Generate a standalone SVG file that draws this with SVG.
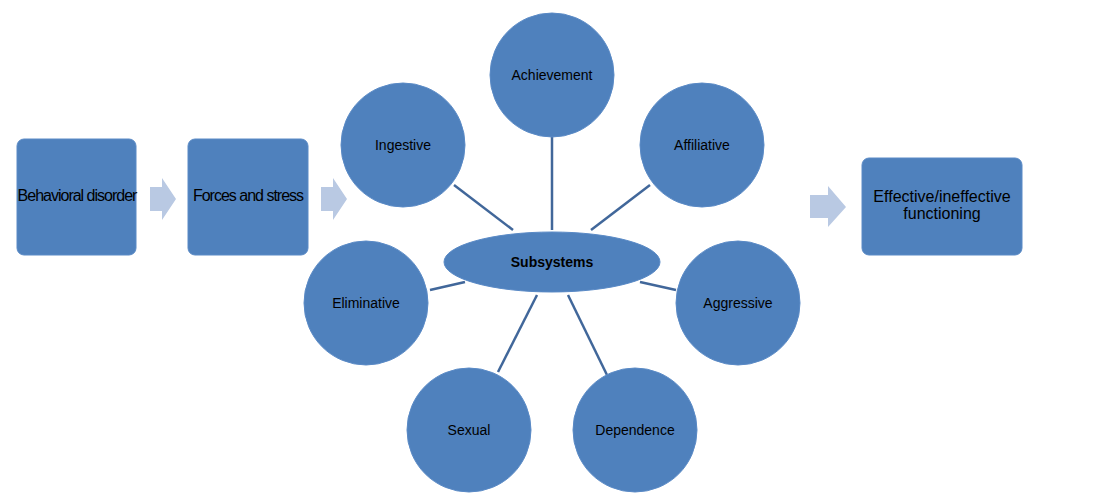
<svg xmlns="http://www.w3.org/2000/svg" width="1100" height="501" viewBox="0 0 1100 501">
<style>
.box{fill:#4F81BD;stroke:#5A8AC6;stroke-width:1}
.c{fill:#4F81BD;stroke:#5A8AC6;stroke-width:1}
.t{font-family:"Liberation Sans",Arial,sans-serif;font-size:14px;fill:#000;text-anchor:middle}
.tc{font-family:"Liberation Sans",Arial,sans-serif;font-size:16px;fill:#000;text-anchor:middle;letter-spacing:-1px}
.ar{fill:#B9C9E3}
.ln{stroke:#41679A;stroke-width:2.5;fill:none}
</style>
<rect width="1100" height="501" fill="#fff"/>
<g id="connectors">
<polygon class="ar" points="150,187 162,187 162,178 176,199 162,220 162,211 150,211"/>
<polygon class="ar" points="321,187 333,187 333,178 347,199 333,220 333,211 321,211"/>
<polygon class="ar" points="810,195 828,195 828,186 846,207 828,227 828,218 810,218"/>
<line class="ln" x1="454" y1="185" x2="513" y2="230"/>
<line class="ln" x1="552" y1="137" x2="552" y2="230"/>
<line class="ln" x1="650" y1="185" x2="591" y2="230"/>
<line class="ln" x1="430" y1="290" x2="465" y2="282"/>
<line class="ln" x1="640" y1="282" x2="676" y2="290"/>
<line class="ln" x1="537" y1="295" x2="498" y2="372"/>
<line class="ln" x1="568" y1="295" x2="607" y2="375"/>
</g>
<g id="behavioral"><rect class="box" x="17" y="139" width="119" height="116" rx="7"/><text class="tc" x="77" y="201">Behavioral disorder</text></g>
<g id="forces"><rect class="box" x="188" y="139" width="120" height="116" rx="7"/><text class="tc" x="248" y="201">Forces and stress</text></g>
<g id="effective"><rect class="box" x="862" y="158" width="160" height="97" rx="7"/><text class="t" x="942" y="202" style="font-size:16px">Effective/ineffective</text><text class="t" x="942" y="219" style="font-size:16px">functioning</text></g>
<g id="achievement"><circle class="c" cx="552" cy="75" r="62"/><text class="t" x="552" y="80">Achievement</text></g>
<g id="ingestive"><circle class="c" cx="403" cy="145" r="62"/><text class="t" x="403" y="150">Ingestive</text></g>
<g id="affiliative"><circle class="c" cx="702" cy="145" r="62"/><text class="t" x="702" y="150">Affiliative</text></g>
<g id="eliminative"><circle class="c" cx="366" cy="303" r="62"/><text class="t" x="366" y="308">Eliminative</text></g>
<g id="aggressive"><circle class="c" cx="738" cy="303" r="62"/><text class="t" x="738" y="308">Aggressive</text></g>
<g id="sexual"><circle class="c" cx="469" cy="430" r="62"/><text class="t" x="469" y="435">Sexual</text></g>
<g id="dependence"><circle class="c" cx="635" cy="430" r="62"/><text class="t" x="635" y="435">Dependence</text></g>
<g id="subsystems"><ellipse class="c" cx="552" cy="262" rx="108" ry="30"/><text class="t" x="552" y="267" font-weight="bold">Subsystems</text></g>
</svg>
